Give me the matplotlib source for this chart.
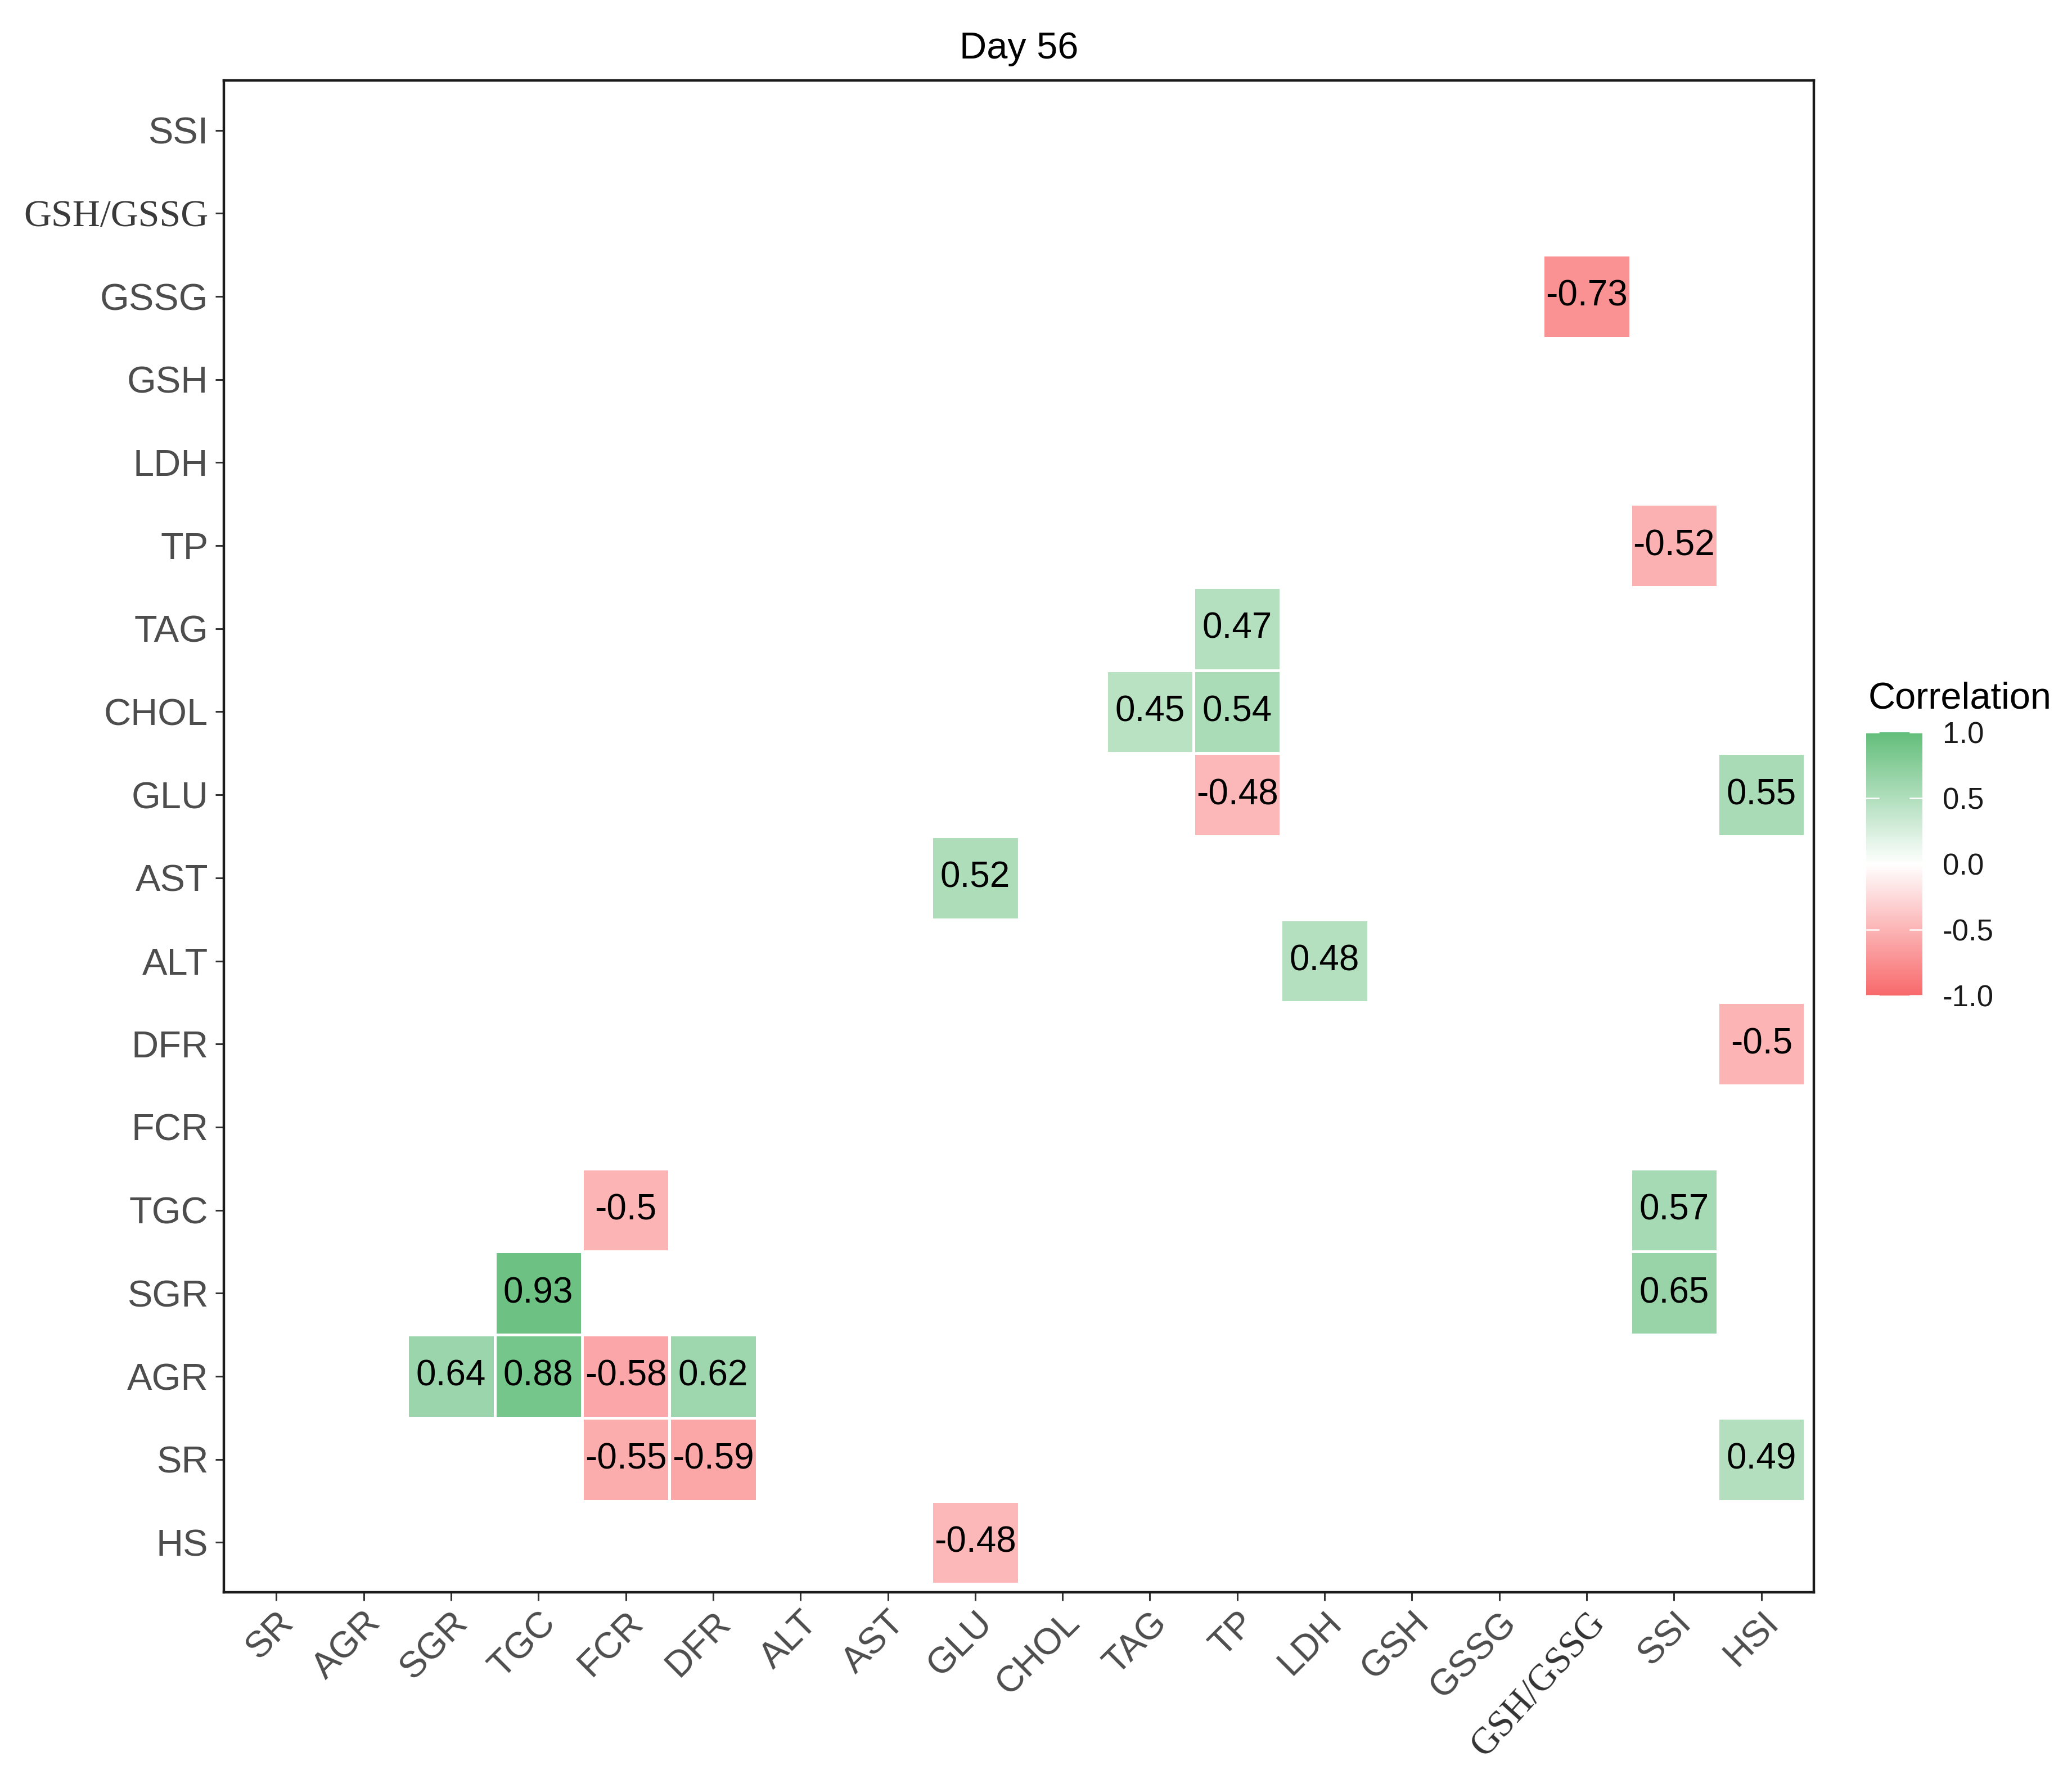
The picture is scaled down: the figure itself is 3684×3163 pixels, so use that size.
import numpy as np
import matplotlib
matplotlib.use("Agg")
import matplotlib.pyplot as plt
from matplotlib.colors import LinearSegmentedColormap, Normalize
from matplotlib.cm import ScalarMappable

plt.rcParams['font.family'] = ['Liberation Sans', 'DejaVu Sans']
plt.rcParams['axes.unicode_minus'] = False

# ---------------- data ----------------
x_labels = ["SR", "AGR", "SGR", "TGC", "FCR", "DFR", "ALT", "AST", "GLU", "CHOL",
            "TAG", "TP", "LDH", "GSH", "GSSG", "GSH/GSSG", "SSI", "HSI"]
y_labels = ["HS", "SR", "AGR", "SGR", "TGC", "FCR", "DFR", "ALT", "AST", "GLU",
            "CHOL", "TAG", "TP", "LDH", "GSH", "GSSG", "GSH/GSSG", "SSI"]

cell_x = ["GSH/GSSG", "SSI", "TP", "TAG", "TP", "TP", "HSI", "GLU", "LDH", "HSI",
          "FCR", "SSI", "TGC", "SSI", "SGR", "TGC", "FCR", "DFR", "FCR", "DFR",
          "HSI", "GLU"]
cell_y = ["GSSG", "TP", "TAG", "CHOL", "CHOL", "GLU", "GLU", "AST", "ALT", "DFR",
          "TGC", "TGC", "SGR", "SGR", "AGR", "AGR", "AGR", "AGR", "SR", "SR",
          "SR", "HS"]
cell_r = [-0.73, -0.52, 0.47, 0.45, 0.54, -0.48, 0.55, 0.52, 0.48, -0.5,
          -0.5, 0.57, 0.93, 0.65, 0.64, 0.88, -0.58, 0.62, -0.55, -0.59,
          0.49, -0.48]

legend_ticks = [-1.0, -0.5, 0.0, 0.5, 1.0]

# ---------------- styling ----------------
W, H = 3684, 3163
cmap = LinearSegmentedColormap.from_list("corr", ["#F8696B", "#FFFFFF", "#63BE7B"])
norm = Normalize(vmin=-1, vmax=1)
tick_col = "#4D4D4D"

fig = plt.figure(figsize=(W / 100, H / 100), dpi=100)
ax = fig.add_axes([398 / W, 1 - 2831 / H, (3225 - 398) / W, (2831 - 143) / H])

nx, ny = len(x_labels), len(y_labels)
mat = np.full((ny, nx), np.nan)
for cx, cy, r in zip(cell_x, cell_y, cell_r):
    mat[y_labels.index(cy), x_labels.index(cx)] = r
masked = np.ma.masked_invalid(mat)

ax.pcolormesh(np.arange(nx + 1) - 0.5, np.arange(ny + 1) - 0.5, masked,
              cmap=cmap, norm=norm, edgecolors="white", linewidth=2.5)

for cx, cy, r in zip(cell_x, cell_y, cell_r):
    ax.text(x_labels.index(cx), y_labels.index(cy), f"{r:g}",
            ha="center", va="center", fontsize=46, color="black")

ax.set_xlim(-0.6, nx - 0.4)
ax.set_ylim(-0.6, ny - 0.4)

ax.set_xticks(np.arange(nx))
ax.set_xticklabels(x_labels)
ax.set_yticks(np.arange(ny))
ax.set_yticklabels(y_labels)

ax.tick_params(axis="both", length=11, width=2.2, color="#333333",
               labelsize=47, labelcolor=tick_col)
ax.tick_params(axis="y", pad=9, labelsize=48)
ax.tick_params(axis="x", pad=6)

for lab in ax.get_xticklabels():
    lab.set_rotation(45)
    lab.set_ha("right")
    lab.set_va("top")
    lab.set_rotation_mode("anchor")
    if lab.get_text() == "GSH/GSSG":
        lab.set_fontfamily("Liberation Serif")
        lab.set_fontsize(48)
        lab.set_color("#333333")
        lab.set_rotation(48)

for lab in ax.get_yticklabels():
    if lab.get_text() == "GSH/GSSG":
        lab.set_fontfamily("Liberation Serif")
        lab.set_fontsize(49)
        lab.set_color("#3a3a3a")

for sp in ax.spines.values():
    sp.set_linewidth(3.2)
    sp.set_color("#1a1a1a")

ax.set_title("Day 56", fontsize=48, pad=28, color="black")

# ---------------- colorbar legend ----------------
cax = fig.add_axes([3318 / W, 1 - 1770 / H, 100 / W, 468 / H])
sm = ScalarMappable(norm=norm, cmap=cmap)
cb = fig.colorbar(sm, cax=cax, ticks=legend_ticks)
cb.outline.set_visible(False)
cb.ax.set_yticklabels([f"{t:.1f}" for t in legend_ticks])
cax.tick_params(length=0, pad=26, labelsize=38, labelcolor="#1a1a1a")
for t in legend_ticks:
    cax.axhline(t, xmin=0, xmax=0.22, color="white", linewidth=1.8)
    cax.axhline(t, xmin=0.78, xmax=1, color="white", linewidth=1.8)

fig.text(3322 / W, 1 - 1259 / H, "Correlation", ha="left", va="baseline",
         fontsize=48, color="black")

fig.savefig("out.png", dpi=100)
